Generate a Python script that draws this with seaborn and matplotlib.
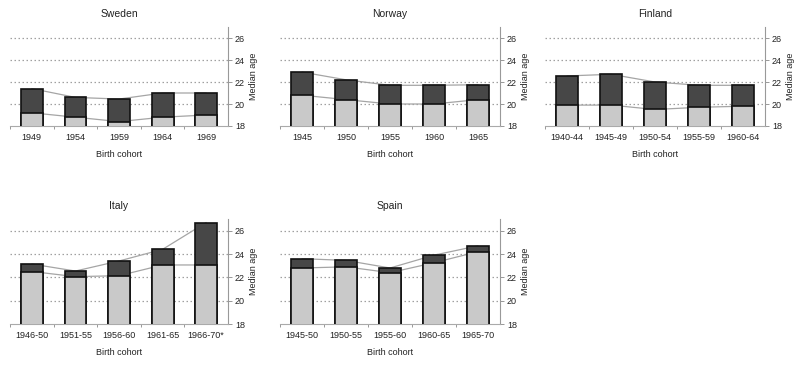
import numpy as np
import pandas as pd
import matplotlib
matplotlib.use("Agg")
import matplotlib.pyplot as plt
import seaborn as sns

sns.set_theme(style="white")
plt.rcParams['font.family'] = ['Liberation Sans', 'DejaVu Sans']

countries = ["Sweden", "Norway", "Finland", "Italy", "Spain"]

sweden_cohorts = ["1949", "1954", "1959", "1964", "1969"]
sweden_lower = [19.2, 18.8, 18.4, 18.8, 19.0]
sweden_total = [21.4, 20.6, 20.45, 21.0, 21.0]

norway_cohorts = ["1945", "1950", "1955", "1960", "1965"]
norway_lower = [20.8, 20.4, 20.0, 20.0, 20.4]
norway_total = [22.9, 22.2, 21.7, 21.7, 21.75]

finland_cohorts = ["1940-44", "1945-49", "1950-54", "1955-59", "1960-64"]
finland_lower = [19.9, 19.9, 19.5, 19.7, 19.8]
finland_total = [22.55, 22.7, 22.0, 21.7, 21.7]

italy_cohorts = ["1946-50", "1951-55", "1956-60", "1961-65", "1966-70*"]
italy_lower = [22.5, 22.06, 22.14, 23.06, 23.06]
italy_total = [23.14, 22.54, 23.4, 24.4, 26.7]

spain_cohorts = ["1945-50", "1950-55", "1955-60", "1960-65", "1965-70"]
spain_lower = [22.8, 22.9, 22.4, 23.25, 24.2]
spain_total = [23.6, 23.45, 22.8, 23.9, 24.7]

yticks = [18, 20, 22, 24, 26]

data = {
    "Sweden": (sweden_cohorts, sweden_lower, sweden_total),
    "Norway": (norway_cohorts, norway_lower, norway_total),
    "Finland": (finland_cohorts, finland_lower, finland_total),
    "Italy": (italy_cohorts, italy_lower, italy_total),
    "Spain": (spain_cohorts, spain_lower, spain_total),
}

W, H = 803, 366
fig = plt.figure(figsize=(W / 100, H / 100), dpi=100)
fig.patch.set_facecolor("white")

# (left px, right px, top px, bottom px)
boxes = {
    "Sweden": (10, 228, 27, 126),
    "Norway": (280, 500, 27, 126),
    "Finland": (545, 765, 27, 126),
    "Italy": (10, 228, 219, 324),
    "Spain": (280, 500, 219, 324),
}

dark = "#474747"
light = "#c9c9c9"
linec = "#a5a5a5"

for name in countries:
    cohorts, lower, total = data[name]
    l, r, t, b = boxes[name]
    ax = fig.add_axes([l / W, 1 - b / H, (r - l) / W, (b - t) / H])
    df = pd.DataFrame({"cohort": cohorts, "lower": lower, "total": total})

    x = np.arange(len(cohorts))
    ax.plot(x, df["total"], color=linec, lw=0.9, zorder=1)
    ax.plot(x, df["lower"], color=linec, lw=0.9, zorder=1)

    sns.barplot(data=df, x="cohort", y="total", color=dark, width=0.5,
                edgecolor="#111111", linewidth=1.2, saturation=1, ax=ax, zorder=3)
    sns.barplot(data=df, x="cohort", y="lower", color=light, width=0.5,
                edgecolor="#111111", linewidth=1.2, saturation=1, ax=ax, zorder=4)
    ax.set_ylim(18, 27)
    ax.set_xlim(-0.5, len(cohorts) - 0.5)

    for yv in [20, 22, 24, 26]:
        ax.axhline(yv, color="#a0a0a0", lw=0.9, ls=(0, (1.2, 2.0)), zorder=0)

    ax.yaxis.tick_right()
    ax.yaxis.set_label_position("right")
    ax.set_yticks(yticks)
    ax.set_yticklabels([str(v) for v in yticks], fontsize=6.5, color="#222222")
    ax.tick_params(axis="y", length=3, width=0.6, color="#888888", pad=2, right=True, left=False)
    ax.set_ylabel("Median age", fontsize=6.5, color="#222222", labelpad=3)

    ax.tick_params(axis="x", labelsize=6.5, length=0, pad=5, colors="#222222")
    ax.set_xticks(range(len(cohorts)))
    ax.set_xticklabels(cohorts)
    ax.set_xticks(np.arange(-0.5, len(cohorts) - 0.5, 1.0), minor=True)
    ax.tick_params(axis="x", which="minor", length=2, width=0.6, color="#888888", bottom=True)
    ax.set_xlabel("Birth cohort", fontsize=6.5, color="#222222", labelpad=6)

    ax.set_title(name, fontsize=7.5, color="#222222", pad=7)

    for s in ["top", "left"]:
        ax.spines[s].set_visible(False)
    ax.spines["right"].set_color("#999999")
    ax.spines["right"].set_linewidth(0.8)
    ax.spines["bottom"].set_color("#aaaaaa")
    ax.spines["bottom"].set_linewidth(0.8)
    ax.set_facecolor("white")

fig.savefig("out.png", dpi=100, facecolor="white")
